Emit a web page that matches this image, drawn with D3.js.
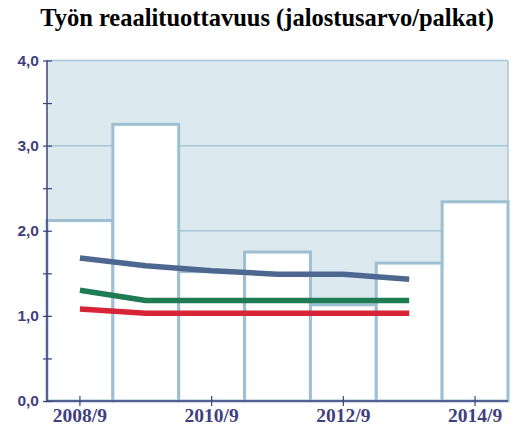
<!DOCTYPE html>
<html>
<head>
<meta charset="utf-8">
<script src="https://cdn.jsdelivr.net/npm/d3@7"></script>
<style>
  body { margin: 0; background: #fff; }
  svg { display: block; }
</style>
</head>
<body>
<svg id="chart" width="514" height="425"></svg>
<script>
// data
const years = [2008, 2009, 2010, 2011, 2012, 2013, 2014];
const barValues = [2.12, 3.25, 1.52, 1.75, 1.13, 1.62, 2.34];
const lineYears = [2008, 2009, 2010, 2011, 2012, 2013];
const blueValues = [1.68, 1.59, 1.53, 1.49, 1.49, 1.43];
const greenValues = [1.30, 1.18, 1.18, 1.18, 1.18, 1.18];
const redValues = [1.08, 1.03, 1.03, 1.03, 1.03, 1.03];
const xLabelYears = [2008, 2010, 2012, 2014];
const yTicks = [0, 0.5, 1, 1.5, 2, 2.5, 3, 3.5, 4];

const svg = d3.select("#chart");
const margin = { top: 60.5, right: 6, bottom: 24, left: 47 };
const width = +svg.attr("width");
const height = +svg.attr("height");

const axisColor = "#3f3f7e";
const gridColor = "#a9c6d6";

const x = d3.scaleBand()
    .domain(years)
    .range([margin.left, width - margin.right])
    .padding(0);

const y = d3.scaleLinear()
    .domain([0, 4])
    .range([height - margin.bottom, margin.top]);

// title
svg.append("text")
    .attr("x", 267)
    .attr("y", 26)
    .attr("text-anchor", "middle")
    .style("font-family", "'Liberation Serif', 'Times New Roman', serif")
    .style("font-weight", "bold")
    .style("font-size", "24.5px")
    .attr("fill", "#000")
    .text("Työn reaalituottavuus (jalostusarvo/palkat)");

// plot background
svg.append("rect")
    .attr("x", margin.left)
    .attr("y", y(4))
    .attr("width", x.range()[1] - margin.left)
    .attr("height", y(0) - y(4))
    .attr("fill", "#dce9ee");

// grid lines
svg.append("g")
    .selectAll("line")
    .data([1, 2, 3, 4])
    .enter().append("line")
    .attr("x1", margin.left)
    .attr("x2", x.range()[1])
    .attr("y1", d => y(d))
    .attr("y2", d => y(d))
    .attr("stroke", gridColor)
    .attr("stroke-width", 1.5);

svg.append("line")
    .attr("x1", x.range()[1])
    .attr("x2", x.range()[1])
    .attr("y1", y(4))
    .attr("y2", y(0))
    .attr("stroke", gridColor)
    .attr("stroke-width", 1.5);

// bars
svg.append("g")
    .selectAll("rect")
    .data(barValues)
    .enter().append("rect")
    .attr("x", (d, i) => x(years[i]))
    .attr("y", d => y(d))
    .attr("width", x.bandwidth())
    .attr("height", d => y(0) - y(d))
    .attr("fill", "#fff")
    .attr("stroke", "#9dbfd3")
    .attr("stroke-width", 3);

// lines
const line = d3.line()
    .x((d, i) => x(lineYears[i]) + x.bandwidth() / 2)
    .y(d => y(d));

[[blueValues, "#4e6791"], [greenValues, "#1e7b53"], [redValues, "#d72537"]].forEach(([vals, color]) => {
    svg.append("path")
        .datum(vals)
        .attr("d", line)
        .attr("fill", "none")
        .attr("stroke", color)
        .attr("stroke-width", 5.5)
        .attr("stroke-linejoin", "round");
});

// y axis
const yAxis = d3.axisLeft(y)
    .tickValues(yTicks)
    .tickSize(4)
    .tickPadding(4)
    .tickFormat(d => Number.isInteger(d) ? d.toFixed(1).replace(".", ",") : "");

const gY = svg.append("g")
    .attr("transform", `translate(${margin.left}, 0)`)
    .call(yAxis);
gY.select(".domain").attr("stroke", axisColor).attr("stroke-width", 1.5)
    .attr("d", `M0,${y(4)}V${y(0)}`);
gY.selectAll(".tick line").attr("x1", 5).attr("stroke", axisColor).attr("stroke-width", 1.2);
gY.selectAll(".tick text")
    .attr("fill", axisColor)
    .style("font-family", "'Liberation Sans', Arial, sans-serif")
    .style("font-weight", "bold")
    .style("font-size", "15.5px");

// x axis
const xAxis = d3.axisBottom(x)
    .tickValues(xLabelYears)
    .tickSize(5)
    .tickPadding(2)
    .tickFormat(d => d + "/9");

const gX = svg.append("g")
    .attr("transform", `translate(0, ${y(0)})`)
    .call(xAxis);
gX.select(".domain").attr("stroke", axisColor).attr("stroke-width", 1.5)
    .attr("d", `M${margin.left},0H${x.range()[1]}`);
gX.selectAll(".tick line").attr("y1", -5).attr("stroke", axisColor).attr("stroke-width", 1.2);
gX.selectAll(".tick text")
    .attr("fill", axisColor)
    .style("font-family", "'Liberation Serif', 'Times New Roman', serif")
    .style("font-weight", "bold")
    .style("font-size", "19.5px");
</script>
</body>
</html>
